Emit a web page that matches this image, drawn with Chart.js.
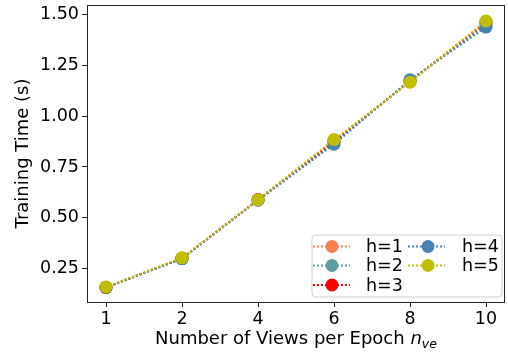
<!DOCTYPE html>
<html>
<head>
<meta charset="utf-8">
<script src="https://cdn.jsdelivr.net/npm/chart.js@4"></script>
<style>
  html, body { margin: 0; padding: 0; background: #fff; }
  #wrap { width: 508px; height: 358px; }
</style>
</head>
<body>
<div id="wrap"><canvas id="timeChart" width="508" height="358"></canvas></div>
<script>
// views per epoch (categorical, equally spaced)
const views = ['1', '2', '4', '6', '8', '10'];
const labels = ['h=1', 'h=2', 'h=3', 'h=4', 'h=5'];
const colors = ['#FF7F50', '#5F9EA0', '#FF0000', '#4682B4', '#BFBF00'];

// training time in seconds
const h1 = [0.155, 0.300, 0.588, 0.875, 1.170, 1.460];
const h2 = [0.155, 0.298, 0.587, 0.870, 1.175, 1.450];
const h3 = [0.156, 0.300, 0.589, 0.878, 1.172, 1.465];
const h4 = [0.157, 0.297, 0.586, 0.862, 1.180, 1.440];
const h5 = [0.158, 0.302, 0.588, 0.885, 1.168, 1.470];
const yTicks = [0.25, 0.50, 0.75, 1.00, 1.25, 1.50];

const FONT = "'DejaVu Sans', sans-serif";
const FS = 17.5;
const TFS = 18;

const series = [h1, h2, h3, h4, h5];
const datasets = series.map((vals, i) => ({
    label: labels[i],
    data: vals.map((v, j) => ({ x: j, y: v })),
    order: series.length - i, // later series drawn on top
    borderColor: colors[i],
    backgroundColor: colors[i],
    borderWidth: 2,
    borderDash: [2, 2],
    pointRadius: 6.5,
    pointHoverRadius: 6.5,
    pointBorderWidth: 0,
    fill: false,
    tension: 0
}));

// axes frame, x title with subscript, and a two-column legend
const decor = {
    id: 'decor',
    afterDraw(chart) {
        const ctx = chart.ctx;
        const a = chart.chartArea;
        ctx.save();
        ctx.strokeStyle = '#222';
        ctx.lineWidth = 1;
        ctx.strokeRect(Math.round(a.left) + 0.5, Math.round(a.top) + 0.5,
            Math.round(a.right - a.left) - 1, Math.round(a.bottom - a.top));

        // x axis title
        const main = 'Number of Views per Epoch ';
        ctx.fillStyle = '#000';
        ctx.textBaseline = 'alphabetic';
        ctx.font = TFS + 'px ' + FONT;
        const w1 = ctx.measureText(main).width;
        ctx.font = 'italic ' + TFS + 'px ' + FONT;
        const w2 = ctx.measureText('n').width;
        ctx.font = 'italic ' + (TFS * 0.7) + 'px ' + FONT;
        const w3 = ctx.measureText('ve').width;
        let x = (a.left + a.right) / 2 - (w1 + w2 + w3) / 2;
        const base = 344;
        ctx.textAlign = 'left';
        ctx.font = TFS + 'px ' + FONT;
        ctx.fillText(main, x, base);
        x += w1;
        ctx.font = 'italic ' + TFS + 'px ' + FONT;
        ctx.fillText('n', x, base);
        x += w2;
        ctx.font = 'italic ' + (TFS * 0.7) + 'px ' + FONT;
        ctx.fillText('ve', x, base + 4);

        // legend box
        const bx = 312, by = 235, bw = 190, bh = 62, r = 4;
        ctx.globalAlpha = 0.8;
        ctx.fillStyle = '#fff';
        ctx.beginPath();
        ctx.roundRect(bx, by, bw, bh, r);
        ctx.fill();
        ctx.globalAlpha = 1;
        ctx.strokeStyle = '#d0d0d0';
        ctx.stroke();

        const cols = [[313, 332, 366], [408, 428, 462]];
        const rows = [246.5, 265.5, 285];
        chart.data.datasets.forEach((ds, i) => {
            const c = cols[Math.floor(i / 3)];
            const y = rows[i % 3];
            ctx.strokeStyle = ds.borderColor;
            ctx.lineWidth = 2;
            ctx.setLineDash([2, 2]);
            ctx.beginPath();
            ctx.moveTo(c[0], y);
            ctx.lineTo(c[0] + 37, y);
            ctx.stroke();
            ctx.setLineDash([]);
            ctx.fillStyle = ds.backgroundColor;
            ctx.beginPath();
            ctx.arc(c[1], y, 6.5, 0, Math.PI * 2);
            ctx.fill();
            ctx.fillStyle = '#000';
            ctx.font = FS + 'px ' + FONT;
            ctx.textBaseline = 'middle';
            ctx.fillText(ds.label, c[2], y + 1);
        });
        ctx.restore();
    }
};

new Chart(document.getElementById('timeChart'), {
    type: 'line',
    data: { datasets: datasets },
    plugins: [decor],
    options: {
        responsive: false,
        animation: false,
        layout: { autoPadding: false, padding: { top: 5, right: 3, left: 0, bottom: 0 } },
        plugins: {
            legend: { display: false },
            tooltip: { enabled: false }
        },
        scales: {
            x: {
                type: 'linear',
                min: -0.25,
                max: 5.25,
                afterBuildTicks: s => { s.ticks = views.map((v, i) => ({ value: i })); },
                afterFit: s => { s.height = 56; s.paddingLeft = 0; s.paddingRight = 0; },
                ticks: {
                    callback: (v) => views[v],
                    color: '#000',
                    font: { family: FONT, size: FS },
                    padding: 2,
                    maxRotation: 0
                },
                grid: { drawOnChartArea: false, drawTicks: true, tickLength: 5, color: '#222' },
                border: { display: false }
            },
            y: {
                min: 0.084,
                max: 1.549,
                afterBuildTicks: s => { s.ticks = yTicks.map(v => ({ value: v })); },
                afterFit: s => { s.width = 87; s.paddingTop = 0; s.paddingBottom = 0; },
                ticks: {
                    callback: v => v.toFixed(2),
                    color: '#000',
                    font: { family: FONT, size: FS },
                    padding: 3
                },
                grid: { drawOnChartArea: false, drawTicks: true, tickLength: 5, color: '#222' },
                border: { display: false },
                title: {
                    display: true,
                    text: 'Training Time (s)',
                    color: '#000',
                    font: { family: FONT, size: TFS },
                    padding: { top: 13, bottom: 0 }
                }
            }
        }
    }
});
</script>
</body>
</html>
